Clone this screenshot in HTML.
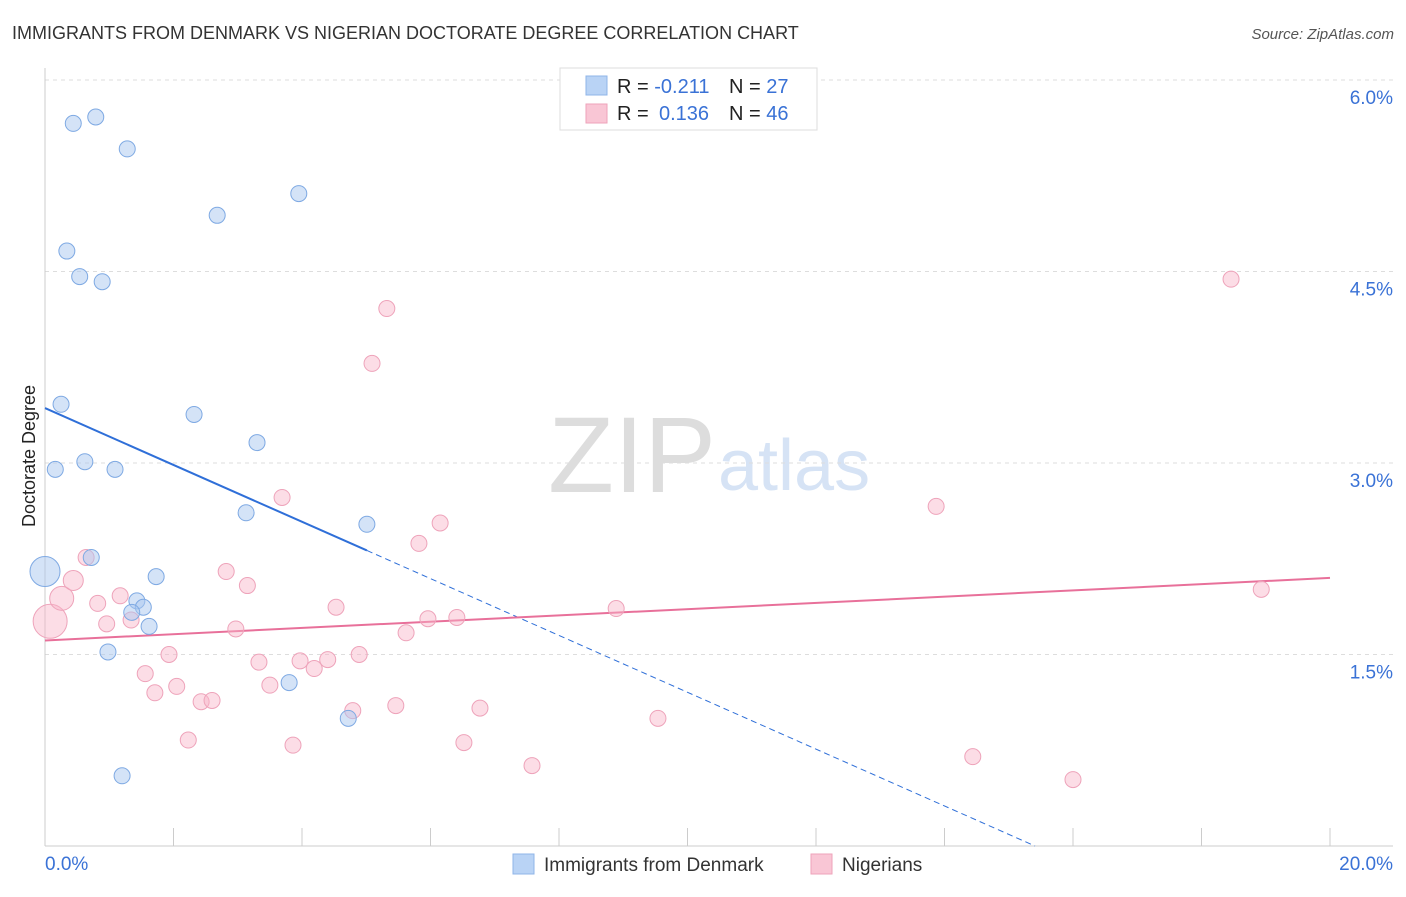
<!DOCTYPE html>
<html><head><meta charset="utf-8"><style>
body{margin:0;background:#fff;font-family:"Liberation Sans",sans-serif;}
svg text{font-family:"Liberation Sans",sans-serif;}
</style></head><body>
<svg id="chart" width="1406" height="892">
<text x="12" y="39" font-size="18" fill="#333">IMMIGRANTS FROM DENMARK VS NIGERIAN DOCTORATE DEGREE CORRELATION CHART</text>
<text x="1394" y="39" font-size="15" fill="#555" font-style="italic" text-anchor="end">Source: ZipAtlas.com</text>
<text x="35" y="456" font-size="18" fill="#222" text-anchor="middle" transform="rotate(-90 35 456)">Doctorate Degree</text>
<text x="716" y="492" font-size="108" fill="#ddd" text-anchor="end" font-family="Liberation Serif">ZIP</text>
<text x="718" y="490" font-size="72" fill="#d6e3f5">atlas</text>
<g id="grid"></g><g id="axes"></g><g id="lines"></g><g id="pts"></g>
<g>
<rect x="560" y="68" width="257" height="62" fill="#fff" stroke="#ddd"/>
<rect x="586" y="76" width="21" height="19" fill="#b9d3f5" stroke="#8fb5e8"/>
<rect x="586" y="104" width="21" height="19" fill="#f9c6d5" stroke="#eea3ba"/>
<text x="617" y="93" font-size="20" fill="#222">R = <tspan fill="#3a72d6">-0.211</tspan><tspan x="729">N = </tspan><tspan fill="#3a72d6">27</tspan></text>
<text x="617" y="120" font-size="20" fill="#222">R = <tspan x="659" fill="#3a72d6">0.136</tspan><tspan x="729">N = </tspan><tspan fill="#3a72d6">46</tspan></text>
</g>
<g>
<rect x="513" y="854" width="21" height="20" fill="#b9d3f5" stroke="#8fb5e8"/>
<text x="544" y="871" font-size="19" fill="#333">Immigrants from Denmark</text>
<rect x="811" y="854" width="21" height="20" fill="#f9c6d5" stroke="#eea3ba"/>
<text x="842" y="871" font-size="19" fill="#333">Nigerians</text>
</g>
</svg>
<script>
const blueX=[0,0.44,0.79,1.28,3.95,2.68,0.34,0.54,0.89,0.25,2.32,3.30,0.16,0.62,1.09,3.13,5.01,0.72,1.73,1.43,1.53,1.35,1.62,0.98,3.80,4.72,1.20];
const blueY=[2.15,5.66,5.71,5.46,5.11,4.94,4.66,4.46,4.42,3.46,3.38,3.16,2.95,3.01,2.95,2.61,2.52,2.26,2.11,1.92,1.87,1.83,1.72,1.52,1.28,1.00,0.55];
const pinkX=[0.08,0.26,0.44,0.64,0.82,0.96,1.17,1.34,1.56,1.71,1.93,2.05,2.23,2.43,2.60,2.82,2.97,3.15,3.33,3.50,3.69,3.86,3.97,4.19,4.40,4.53,4.79,4.89,5.09,5.32,5.46,5.62,5.82,5.96,6.15,6.41,6.52,6.77,7.58,8.89,9.54,13.87,14.44,16.00,18.46,18.93];
const pinkY=[1.76,1.94,2.08,2.26,1.90,1.74,1.96,1.77,1.35,1.20,1.50,1.25,0.83,1.13,1.14,2.15,1.70,2.04,1.44,1.26,2.73,0.79,1.45,1.39,1.46,1.87,1.06,1.50,3.78,4.21,1.10,1.67,2.37,1.78,2.53,1.79,0.81,1.08,0.63,1.86,1.00,2.66,0.70,0.52,4.44,2.01];
const blueSize=[15];const pinkSize=[17,12,10];
const blueTrend=[3.43,-0.2226];const pinkTrend=[1.61,0.0245];
const yTicks=[1.5,3.0,4.5,6.0];const yTickLabels=["1.5%","3.0%","4.5%","6.0%"];
const xTicks=[0,2,4,6,8,10,12,14,16,18,20];
const NS="http://www.w3.org/2000/svg";
const X=v=>45+v/20*1285, Y=v=>846-v*127.67;
function mk(t,a,p){const e=document.createElementNS(NS,t);for(const k in a)e.setAttribute(k,a[k]);document.getElementById(p).appendChild(e);return e;}
yTicks.forEach((t,i)=>{
 const g=mk('line',{x1:45,x2:1393,y1:Y(t),y2:Y(t),stroke:'#ddd','stroke-dasharray':'4,4'},'grid');
 
 
 const l=mk('text',{x:1393,y:Y(t)+24,'font-size':19,fill:'#3a72d6','text-anchor':'end'},'grid');l.textContent=yTickLabels[i];
 
 
});
const ax=mk('line',{x1:45,x2:1393,y1:846,y2:846,stroke:'#ccc'},'axes');


const ay=mk('line',{x1:45,x2:45,y1:68,y2:846,stroke:'#ccc'},'axes');


xTicks.forEach(t=>{const k=mk('line',{x1:X(t),x2:X(t),y1:828,y2:846,stroke:'#ccc'},'axes');
 
 });
[[0,"0.0%",'start',45],[20,"20.0%",'end',1393]].forEach(a=>{const t=mk('text',{x:a[3],y:870,'font-size':19,fill:'#3a72d6','text-anchor':a[2]},'axes');t.textContent=a[1];
 
 });
const bEnd=5.01, bZero=-blueTrend[0]/blueTrend[1];
const bl=mk('line',{x1:X(0),y1:Y(blueTrend[0]),x2:X(bEnd),y2:Y(blueTrend[0]+blueTrend[1]*bEnd),stroke:'#2f6fd8','stroke-width':2},'lines');


const bd=mk('line',{x1:X(bEnd),y1:Y(blueTrend[0]+blueTrend[1]*bEnd),x2:X(bZero),y2:Y(0),stroke:'#2f6fd8','stroke-width':1,'stroke-dasharray':'6,4'},'lines');


const pl=mk('line',{x1:X(0),y1:Y(pinkTrend[0]),x2:X(20),y2:Y(pinkTrend[0]+pinkTrend[1]*20),stroke:'#e8709a','stroke-width':2},'lines');


pinkX.forEach((x,i)=>{const c=mk('circle',{cx:X(x),cy:Y(pinkY[i]),r:pinkSize[i]||8,fill:'rgba(248,180,200,0.45)',stroke:'#eea3ba','stroke-width':1},'pts');
 
 });
blueX.forEach((x,i)=>{const c=mk('circle',{cx:X(x),cy:Y(blueY[i]),r:blueSize[i]||8,fill:'rgba(170,200,240,0.5)',stroke:'#7ea9e3','stroke-width':1},'pts');
 
 });
</script>
</body></html>
